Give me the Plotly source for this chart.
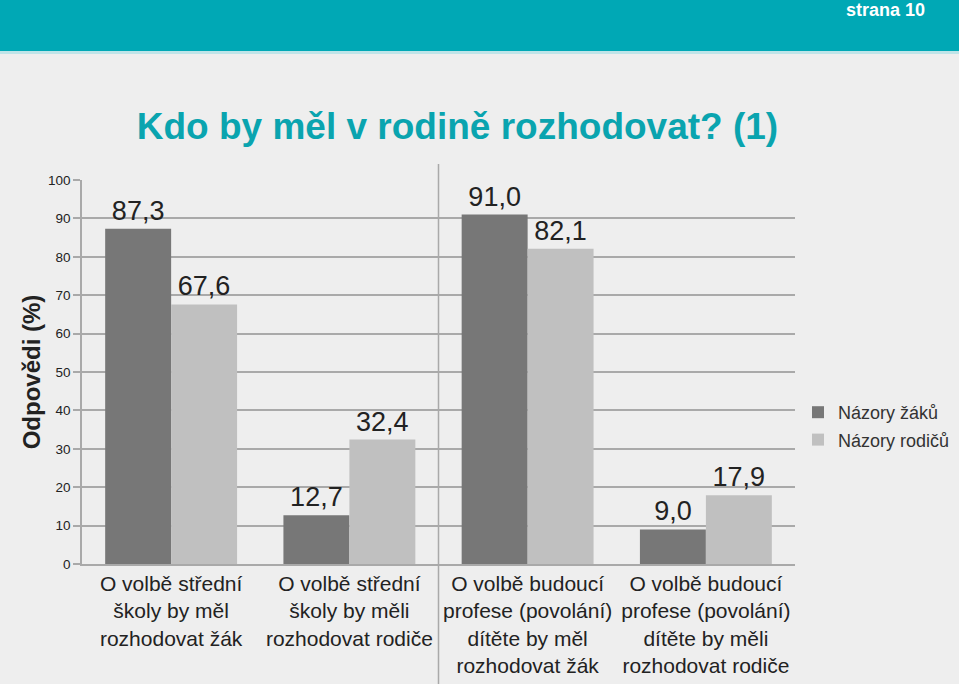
import plotly.graph_objects as go

categories = [
    "O volbě střední<br>školy by měl<br>rozhodovat žák",
    "O volbě střední<br>školy by měli<br>rozhodovat rodiče",
    "O volbě budoucí<br>profese (povolání)<br>dítěte by měl<br>rozhodovat žák",
    "O volbě budoucí<br>profese (povolání)<br>dítěte by měli<br>rozhodovat rodiče",
]
cat_ids = ["c1", "c2", "c3", "c4"]
zaci = [87.3, 12.7, 91.0, 9.0]
rodice = [67.6, 32.4, 82.1, 17.9]
series_names = ["Názory žáků", "Názory rodičů"]
y_ticks = [0, 10, 20, 30, 40, 50, 60, 70, 80, 90, 100]

W, H = 959, 684
L, R, T, B = 82, 795, 180, 564
pw, ph = R - L, B - T

def px(x):
    return (x - L) / pw

def py(y):
    return (B - y) / ph

BG = "#EEEEEE"
TEAL = "#00A8B5"
GRID = "#A9A9A9"
FONT = "Liberation Sans, Arial"

fig = go.Figure()
fig.add_trace(go.Bar(
    x=cat_ids, y=zaci, name=series_names[0], marker_color="#777777",
    marker_line_width=0, legendgroup="a",
    texttemplate="%{y:.1f}", textposition="outside",
    textfont=dict(size=27, color="#222222", family=FONT),
    cliponaxis=False,
))
fig.add_trace(go.Bar(
    x=cat_ids, y=rodice, name=series_names[1], marker_color="#C0C0C0",
    marker_line_width=0, legendgroup="b",
    texttemplate="%{y:.1f}", textposition="outside",
    textfont=dict(size=27, color="#222222", family=FONT),
    cliponaxis=False,
))

shapes = [
    # header bar
    dict(type="rect", xref="paper", yref="paper",
         x0=px(0), x1=px(W), y0=py(51), y1=py(-2),
         fillcolor=TEAL, line_width=0, layer="below"),
    dict(type="rect", xref="paper", yref="paper",
         x0=px(0), x1=px(W), y0=py(54), y1=py(51),
         fillcolor="#BFE4E8", line_width=0, layer="below"),
    # separator line
    dict(type="line", xref="x", yref="paper",
         x0=1.5, x1=1.5, y0=py(684), y1=py(164),
         line=dict(color="#A9A9A9", width=1.5)),
]

fig.update_layout(
    width=W, height=H, autosize=False,
    margin=dict(l=L, r=W - R, t=T, b=H - B, pad=0),
    paper_bgcolor=BG, plot_bgcolor=BG,
    separators=", ",
    barmode="group", bargap=0.26, bargroupgap=0,
    font=dict(family=FONT, color="#222222"),
    title=dict(
        text="<b>Kdo by měl v rodině rozhodovat? (1)</b>",
        x=457.5 / W, xanchor="center", xref="container",
        y=1 - 126 / H, yanchor="middle", yref="container",
        font=dict(size=37, color="#0AA4AF", family=FONT),
    ),
    xaxis=dict(
        tickmode="array", tickvals=cat_ids, ticktext=categories,
        tickfont=dict(size=21, color="#222222"),
        showline=True, linecolor=GRID, linewidth=1.5,
        ticks="", showgrid=False, automargin=False,
    ),
    yaxis=dict(
        range=[0, 100], tickvals=y_ticks,
        tickfont=dict(size=13.5, color="#222222"),
        showline=True, linecolor=GRID, linewidth=1.5,
        ticks="outside", ticklen=7, tickcolor=GRID, tickwidth=1.5,
        showgrid=True, gridcolor=GRID, gridwidth=1.5,
        zeroline=False, automargin=False,
        title=dict(text="<b>Odpovědi (%)</b>", font=dict(size=24, color="#222222"),
                   standoff=1),
    ),
    legend=dict(
        xref="container", yref="container",
        x=798 / W, y=1 - 394 / H, xanchor="left", yanchor="top",
        font=dict(size=18, color="#333333"),
        bgcolor="rgba(0,0,0,0)", tracegroupgap=1, traceorder="grouped",
    ),
    shapes=shapes,
    annotations=[
        dict(text="<b>strana 10</b>", xref="paper", yref="paper",
             x=px(927), y=py(10), xanchor="right", yanchor="middle",
             showarrow=False,
             font=dict(size=18, color="white", family=FONT)),
    ],
)

fig.write_html(
    "out.html",
    config={"displayModeBar": False},
    post_script="document.body.style.margin='0';document.body.style.overflow='hidden';",
)
